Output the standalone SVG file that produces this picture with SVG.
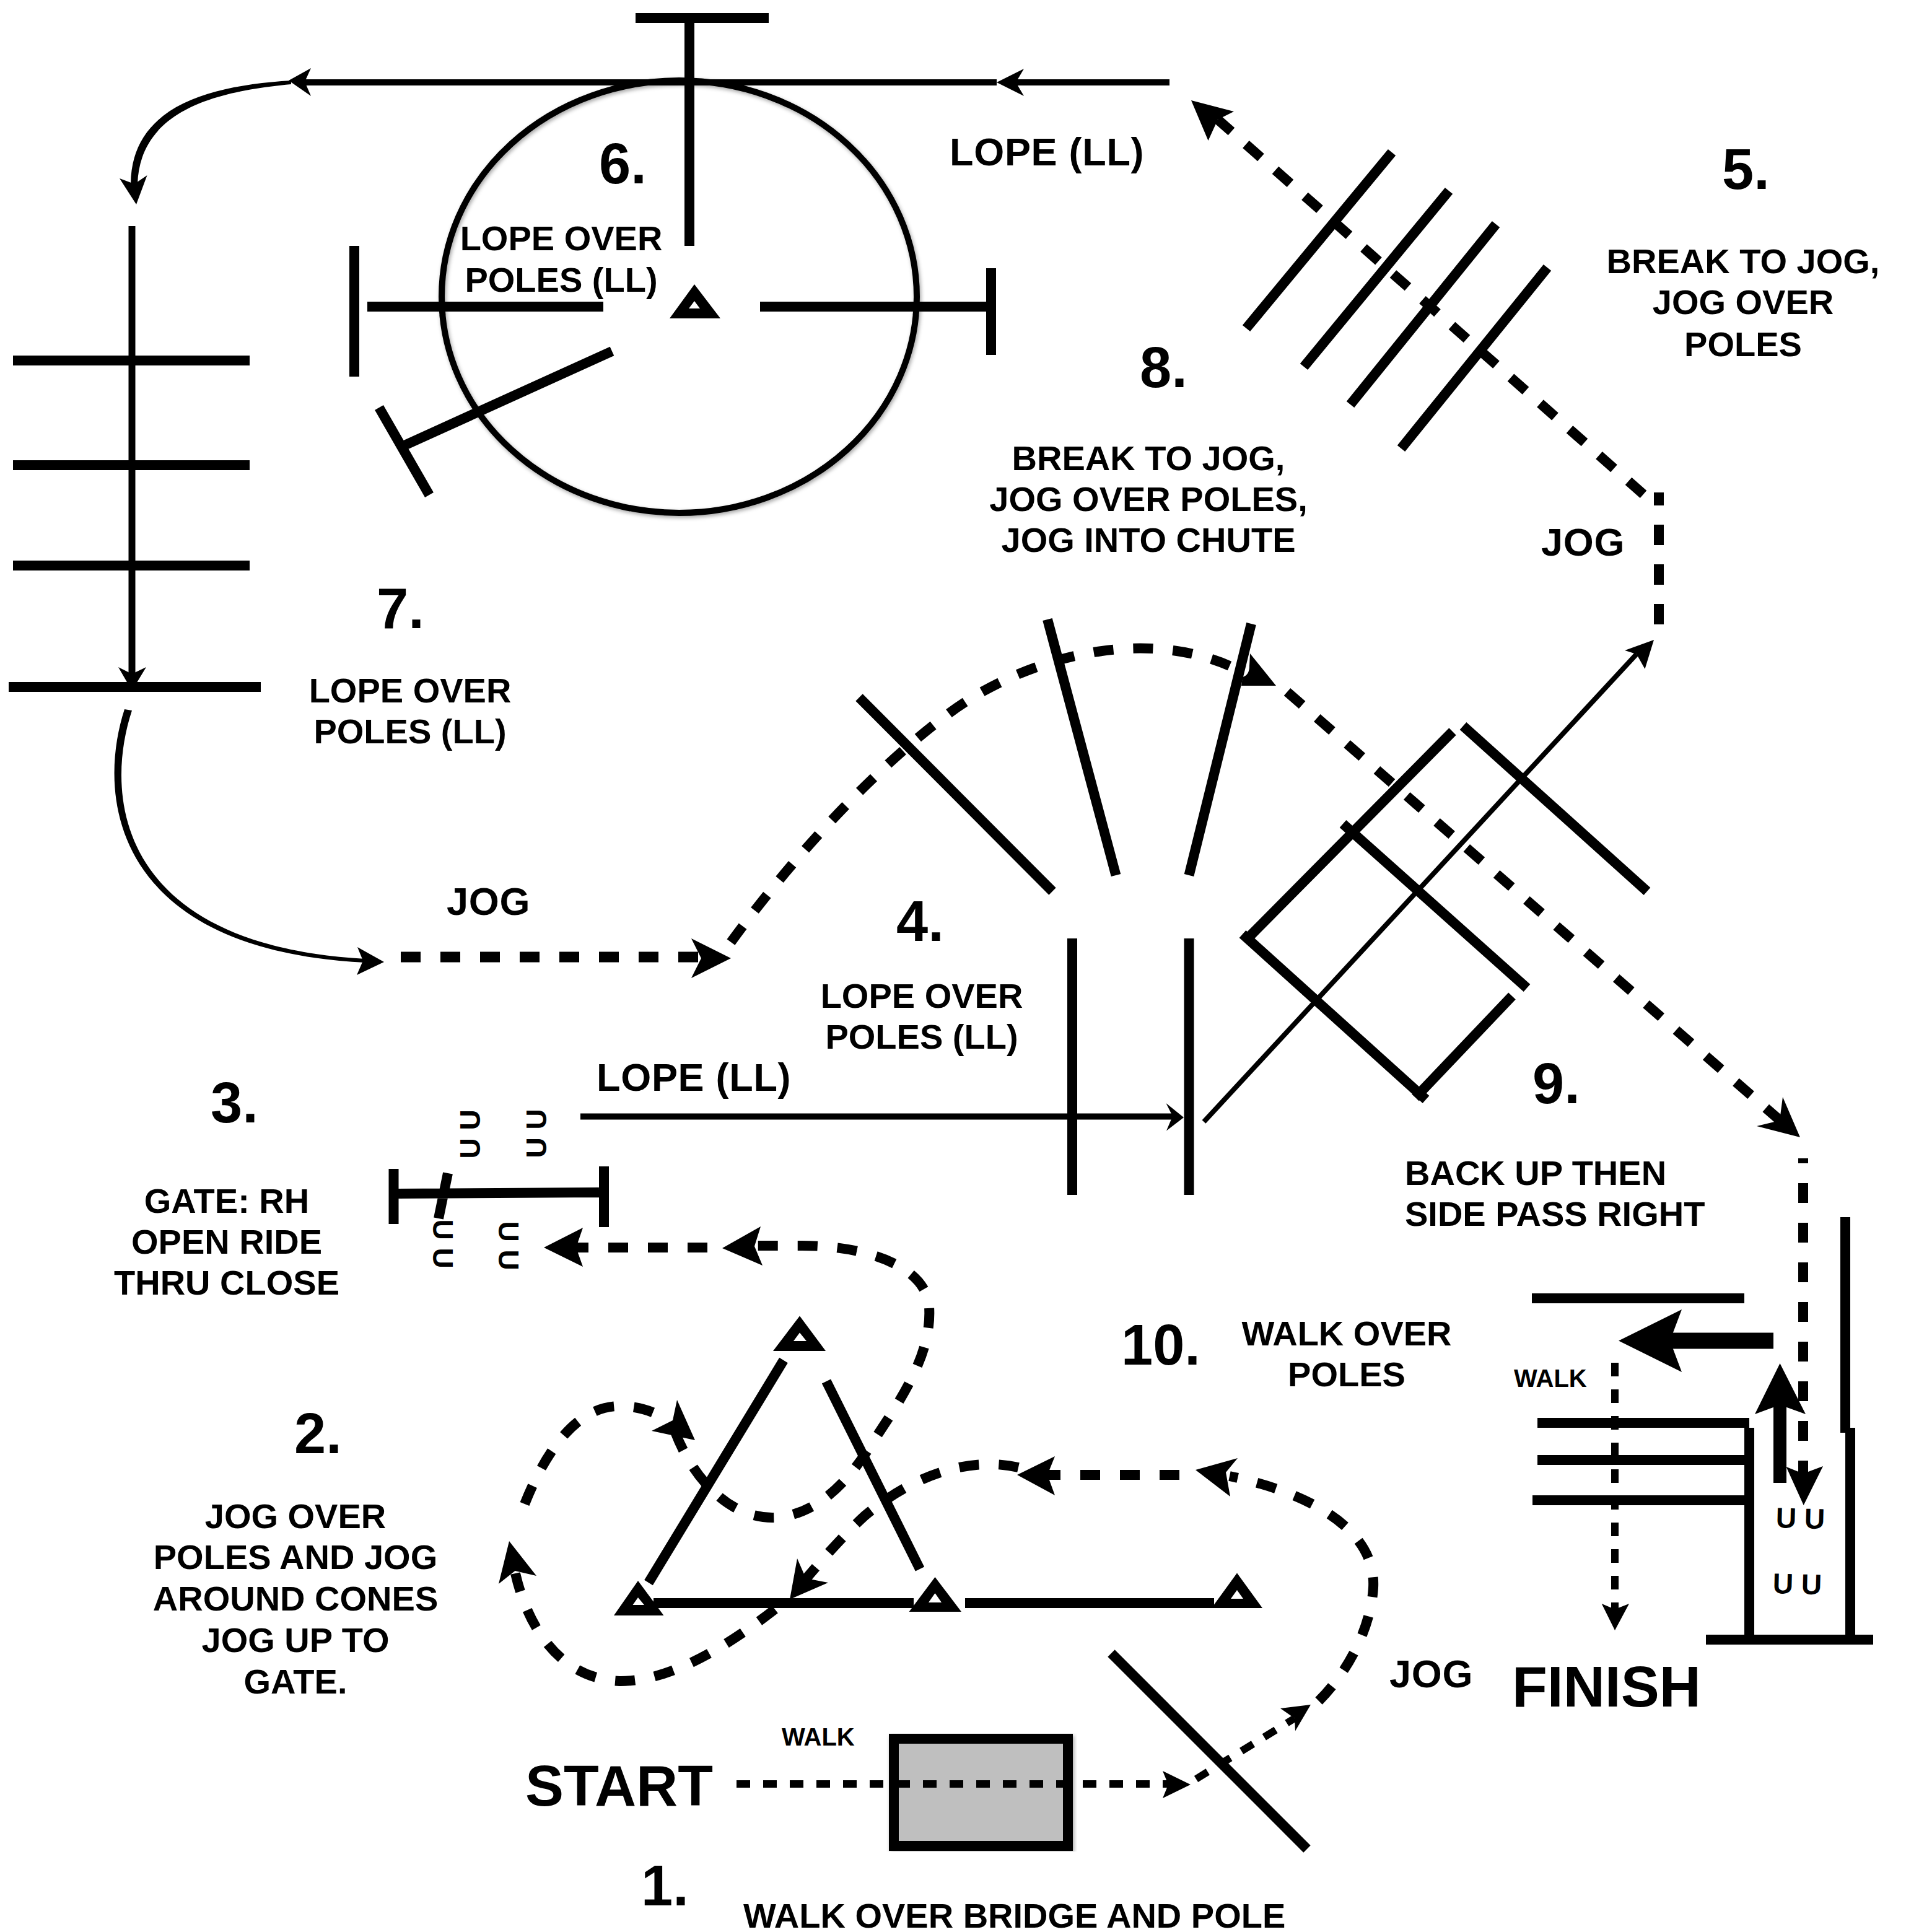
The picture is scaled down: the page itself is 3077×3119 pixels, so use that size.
<svg xmlns="http://www.w3.org/2000/svg" width="3077" height="3119" viewBox="0 0 3077 3119">
<style>
text{font-family:"Liberation Sans",Arial,Helvetica,sans-serif;font-weight:700;fill:#000}
.m{font-size:56px;text-anchor:middle}
.l{font-size:56px}
.j{font-size:63px;letter-spacing:.7px}
.n{font-size:92px}
.w{font-size:40px}
.u{font-size:46px;text-anchor:middle}
.p{stroke:#000;stroke-width:16;fill:none;stroke-linecap:butt}
.s{stroke:#000;stroke-width:8;fill:none}
.d{stroke:#000;stroke-width:16;fill:none;stroke-dasharray:32 32}
.dw{stroke:#000;stroke-width:12;fill:none;stroke-dasharray:22 21}
.h{fill:#000;stroke:none}
.c{fill:#000;fill-rule:evenodd}
</style>
<defs><filter id="sh" x="-5%" y="-5%" width="110%" height="110%"><feDropShadow dx="2" dy="3" stdDeviation="3" flood-color="#000" flood-opacity="0.35"/></filter></defs>
<rect width="3077" height="3119" fill="#fff"/>

<g id="ring-6">
<ellipse cx="1096.5" cy="479" rx="383.5" ry="349" fill="none" stroke="#000" stroke-width="10" filter="url(#sh)"/>
<path class="p" d="M1026,29H1241"/>
<path class="p" d="M1113,37V397"/>
<path class="p" d="M572,397V608M593,495H974M1227,495H1608M1600,433V573"/>
<path class="p" d="M988,567L653,719M612,658L693,799"/>
<path class="c" d="M1121,459L1163,514H1081ZM1121,486L1112,498H1130Z"/>
</g>

<g id="poles-7">
<path class="p" d="M21,582H403M21,751H403M21,913H403M14,1109H421"/>
</g>

<g id="poles-5">
<path class="p" d="M2247,246L2012,530M2339,308L2105,592M2415,362L2180,653M2498,432L2262,724"/>
</g>

<g id="poles-8">
<path class="p" d="M1387,1126L1699,1439M1691,1000L1801.5,1413M2020,1007L1919.5,1413"/>
</g>

<g id="poles-4">
<path class="p" d="M1731,1515V1929M1919.5,1515V1929"/>
<path class="p" d="M2345,1181L2019,1510M2362,1172L2659,1439M2168,1330L2465,1595M2006,1508L2302,1775M2441,1608L2285,1772"/>
</g>

<g id="gate-3">
<path class="p" d="M635.5,1887V1976M975,1883V1981M643,1927L967,1925M723,1894L708,1967"/>
<text class="u" transform="translate(775,1831) rotate(-90)">U U</text>
<text class="u" transform="translate(882,1830) rotate(-90)">U U</text>
<text class="u" transform="translate(699,2008) rotate(90)">U U</text>
<text class="u" transform="translate(805,2011) rotate(90)">U U</text>
</g>

<g id="cones-2">
<path class="c" d="M1291,2124.5L1333,2181H1248ZM1291,2151.5L1281,2165H1302Z"/>
<path class="c" d="M1030,2552L1071.5,2608H991ZM1030,2579L1021.5,2591H1040Z"/>
<path class="c" d="M1509.5,2546L1552,2602H1467.6ZM1509.5,2572L1499,2587H1520Z"/>
<path class="c" d="M1997,2539.5L2038,2596H1956ZM1997,2567L1987,2581H2007Z"/>
<path class="p" d="M1265,2196L1047,2555M1334,2230L1485,2533M1055,2588H1475M1558,2588H1960"/>
</g>

<g id="bridge-1">
<rect x="1443" y="2807" width="281" height="173" fill="#bfbfbf" stroke="#000" stroke-width="16" filter="url(#sh)"/>
<path class="p" d="M1794,2669L2110,2985"/>
</g>

<g id="chute-9">
<path class="p" d="M2473,2096H2816M2482,2297H2824M2482,2357H2816M2474,2422H2816"/>
<path class="p" d="M2824,2305V2639M2987,2305V2639M2979,1965V2313M2754,2647H3024"/>
<text class="u" transform="translate(2906,2467) rotate(1.5)">U U</text>
<text class="u" transform="translate(2901,2573) rotate(1.5)">U U</text>
</g>

<g id="connectors">
<path class="dw" d="M1189,2880H1886"/>
<polygon class="h" points="1922,2881 1877,2859 1886,2881 1877,2903"/>
<path class="dw" d="M1931,2872L2090,2774"/>
<polygon class="h" points="2116,2752 2067,2758 2090,2774 2091,2794.5"/>
<path class="d" d="M2129,2746C2175,2700 2213,2630 2217,2563C2222,2470 2115,2410 1985,2383"/>
<polygon class="h" points="1930,2373 1998,2354 1979,2377 1986,2416"/>
<path class="d" d="M1904,2381H1691"/>
<polygon class="h" points="1642,2381 1703,2351 1691,2381 1703,2414"/>
<path class="d" d="M1644,2369C1560,2350 1470,2385 1396,2447C1360,2480 1330,2515 1300,2550"/>
<polygon class="h" points="1275,2582 1287,2516 1301,2548 1337,2555"/>
<path class="d" d="M1251,2598C1190,2645 1090,2715 1000,2714C900,2710 850,2620 832,2540"/>
<polygon class="h" points="822,2488 866,2544 831.5,2536 805,2557"/>
<path class="d" d="M847,2428C880,2345 930,2270 1000,2270C1025,2270 1048,2276 1066,2286"/>
<polygon class="h" points="1122,2325 1052,2310 1086,2293 1093,2260"/>
<path class="d" d="M1090,2312C1120,2390 1180,2452 1250,2450C1320,2446 1370,2390 1404,2336C1450,2265 1505,2190 1500,2110C1496,2045 1400,2010 1290,2011L1218,2011"/>
<polygon class="h" points="1166,2015 1228,1980 1218,2012 1231,2043"/>
<path class="d" d="M1142,2014H930"/>
<polygon class="h" points="878,2014 941,1982 930,2014 941,2045"/>

<path class="s" style="stroke-width:10" d="M937,1802.5H1893"/>
<polygon class="h" points="1911,1804 1882.5,1781 1893,1802 1883,1825.5"/>
<path class="s" d="M1943.5,1811L2642,1056"/>
<polygon class="h" points="2670,1033 2623,1050 2642,1056 2655.5,1080"/>
<path class="d" style="stroke-dasharray:33 31" d="M2678,1008V795"/>
<path class="d" style="stroke-dasharray:32 31.3" d="M2653,798L1966,193"/>
<polygon class="h" points="1923,162 1992,180 1966,193 1950.5,227"/>
<path class="s" style="stroke-width:10" d="M1888,133H1640"/>
<polygon class="h" points="1609,133 1653,111 1640,133 1653,155"/>
<path class="s" style="stroke-width:10" d="M1609,133H490"/>
<polygon class="h" points="466,130 502,110 492,132 502,155"/>
<path class="h" d="M470,130C340,138 212,170 211,297L222,297C226,182 340,148 470,136Z"/>
<polygon class="h" points="220,330 193,288 217,297 237.5,283"/>
<path class="s" style="stroke-width:11" d="M213,365V1088"/>
<polygon class="h" points="213,1115 191,1077 213,1088 236,1077"/>
<path class="h" d="M201,1145C154,1290 186,1534 590,1554L590,1548C194,1526 166,1290 213,1147Z"/>
<polygon class="h" points="620,1553 577,1529 586,1551 576,1574"/>
<path class="d" style="stroke-width:17" d="M647,1545H1132"/>
<polygon class="h" points="1180,1547 1116,1515 1132,1547 1116,1579"/>
<path class="d" d="M1180,1521C1290,1370 1420,1235 1530,1153C1640,1070 1830,1008 1985,1075"/>
<path class="h" d="M2018,1055L2060,1107H2004L2006,1093Q2017,1090 2017,1075Z"/>
<path class="d" d="M2078,1117L2875,1810"/>
<polygon class="h" points="2906,1836 2878,1771 2873,1809 2836,1818"/>
<path class="d" style="stroke-dashoffset:24" d="M2911,1870V2379"/>
<polygon class="h" points="2911.7,2430 2883.6,2368 2911,2379 2943,2367"/>
<path class="s" style="stroke-width:26" d="M2863,2164.5H2696"/>
<polygon class="h" points="2613,2164.5 2715,2114 2696,2164.5 2715,2215"/>
<path class="s" style="stroke-width:21" d="M2873.5,2394V2268"/>
<polygon class="h" points="2873.5,2201 2915,2283 2873.5,2268 2833,2283"/>
<path class="dw" d="M2607,2200V2598"/>
<polygon class="h" points="2607,2632 2585.7,2589 2607,2598 2630,2589"/>
</g>

<g id="labels">
<text class="n" x="967" y="296">6.</text>
<text class="m" x="906" y="404">LOPE OVER</text>
<text class="m" x="906" y="471">POLES (LL)</text>
<text class="j" x="1533" y="267">LOPE (LL)</text>
<text class="n" x="2780" y="305">5.</text>
<text class="m" x="2814" y="441">BREAK TO JOG,</text>
<text class="m" x="2814" y="507">JOG OVER</text>
<text class="m" x="2814" y="575">POLES</text>
<text class="n" x="1840" y="625">8.</text>
<text class="m" x="1854" y="759">BREAK TO JOG,</text>
<text class="m" x="1854" y="825">JOG OVER POLES,</text>
<text class="m" x="1854" y="891">JOG INTO CHUTE</text>
<text class="j" x="2488" y="897">JOG</text>
<text class="n" x="608" y="1014">7.</text>
<text class="m" x="662" y="1134">LOPE OVER</text>
<text class="m" x="662" y="1200">POLES (LL)</text>
<text class="j" x="721" y="1477">JOG</text>
<text class="n" x="1447" y="1519">4.</text>
<text class="m" x="1488" y="1627">LOPE OVER</text>
<text class="m" x="1488" y="1693">POLES (LL)</text>
<text class="j" x="963" y="1761">LOPE (LL)</text>
<text class="n" x="340" y="1812">3.</text>
<text class="m" x="366" y="1958">GATE: RH</text>
<text class="m" x="366" y="2024">OPEN RIDE</text>
<text class="m" x="366" y="2090">THRU CLOSE</text>
<text class="n" x="475" y="2346">2.</text>
<text class="m" x="477" y="2467">JOG OVER</text>
<text class="m" x="477" y="2533">POLES AND JOG</text>
<text class="m" x="477" y="2600">AROUND CONES</text>
<text class="m" x="477" y="2667">JOG UP TO</text>
<text class="m" x="477" y="2734">GATE.</text>
<text class="n" x="1810" y="2203">10.</text>
<text class="m" x="2174" y="2172">WALK OVER</text>
<text class="m" x="2174" y="2238">POLES</text>
<text class="n" x="2474" y="1781">9.</text>
<text class="l" x="2268" y="1913">BACK UP THEN</text>
<text class="l" x="2268" y="1979">SIDE PASS RIGHT</text>
<text class="w" x="2444" y="2239">WALK</text>
<text class="w" x="1262" y="2818">WALK</text>
<text class="n" x="2441" y="2755" style="font-size:93px">FINISH</text>
<text class="n" x="848" y="2915" style="font-size:93px">START</text>
<text class="j" x="2243" y="2724">JOG</text>
<text class="n" x="1035" y="3076">1.</text>
<text class="l" x="1200" y="3112">WALK OVER BRIDGE AND POLE</text>
</g>
</svg>
